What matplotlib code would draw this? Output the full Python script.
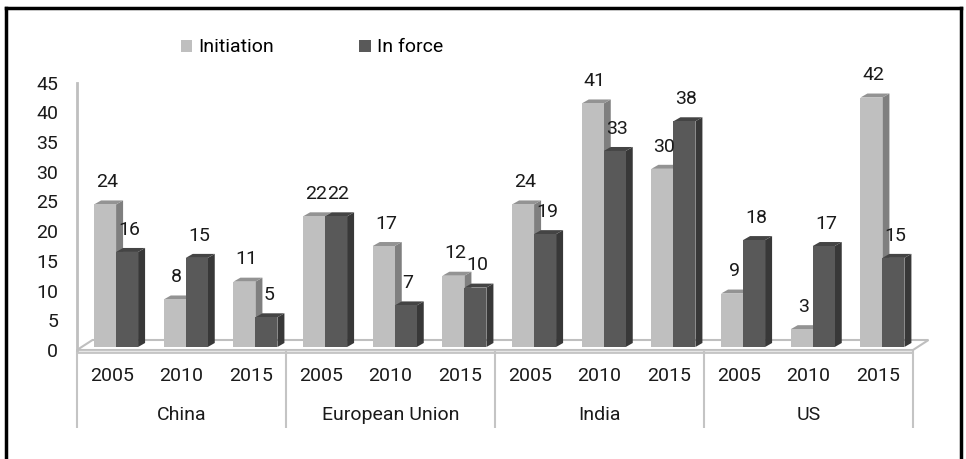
import matplotlib
matplotlib.use("Agg")
import matplotlib.pyplot as plt
from matplotlib.patches import Polygon, Patch
from matplotlib.lines import Line2D

plt.rcParams['font.family'] = ['Roboto', 'DejaVu Sans']

regions = ['China', 'European Union', 'India', 'US']
years = ['2005', '2010', '2015']
initiation = [24, 8, 11, 22, 17, 12, 24, 41, 30, 9, 3, 42]
in_force = [16, 15, 5, 22, 7, 10, 19, 33, 38, 18, 17, 15]

W_PX, H_PX = 966, 459
PX_X = 69.67   # pixels per category
PX_Y = 5.94    # pixels per value unit
FS = 14

# 3d look, in data units
BAR_W = 22 / PX_X
DX = 7 / PX_X
DY = 4 / PX_Y
OFF_X = 4.25 / PX_X
BASE = 3 / PX_Y
FDX = 15.5 / PX_X
FDY = 10 / PX_Y

faces = {
    'light': ('#bfbfbf', '#939393', '#7f7f7f'),
    'dark': ('#595959', '#444444', '#383838'),
}

fig = plt.figure(figsize=(W_PX / 100, H_PX / 100), dpi=100)
ax = fig.add_axes([77 / W_PX, (H_PX - 350) / H_PX, 836 / W_PX, 46 * PX_Y / H_PX])
n = len(initiation)
ax.set_xlim(0, n)
ax.set_ylim(0, 46)

# floor slab
floor = Polygon([(0, 0), (n, 0), (n + FDX, FDY), (FDX, FDY)], closed=True,
                facecolor='white', edgecolor='#bfbfbf', lw=1.5, zorder=1, clip_on=False)
ax.add_patch(floor)
ax.add_patch(Polygon([(0, -0.45), (n, -0.45), (n, 0), (0, 0)], closed=True,
                     facecolor='#e6e6e6', edgecolor='#bfbfbf', lw=1.2, zorder=1, clip_on=False))


def draw_bar(x0, v, kind):
    front, top, side = faces[kind]
    y0 = BASE
    y1 = BASE + v
    ax.add_patch(Polygon([(x0 + BAR_W, y0), (x0 + BAR_W + DX, y0 + DY),
                          (x0 + BAR_W + DX, y1 + DY), (x0 + BAR_W, y1)],
                         closed=True, facecolor=side, edgecolor='none', zorder=3, clip_on=False))
    ax.add_patch(Polygon([(x0, y1), (x0 + BAR_W, y1), (x0 + BAR_W + DX, y1 + DY), (x0 + DX, y1 + DY)],
                         closed=True, facecolor=top, edgecolor='none', zorder=3, clip_on=False))
    ax.bar(x0, v, width=BAR_W, bottom=y0, align='edge', color=front, zorder=3, clip_on=False)
    ax.annotate(str(v), (x0 + BAR_W / 2 + DX * 0.3, y1), xytext=(0, 16),
                textcoords='offset points', ha='center', va='center',
                fontsize=FS, color='#1a1a1a', zorder=5)


for i in range(n):
    c = i + 0.5 + OFF_X
    draw_bar(c - BAR_W, initiation[i], 'light')
    draw_bar(c, in_force[i], 'dark')

# axes styling
for s in ['top', 'right', 'bottom']:
    ax.spines[s].set_visible(False)
ax.spines['left'].set_color('#bfbfbf')
ax.spines['left'].set_linewidth(2)
ax.spines['left'].set_bounds(0, 45)
ax.set_yticks(range(0, 46, 5))
ax.set_xticks([])
ax.tick_params(axis='y', length=0, pad=13.7, labelsize=FS, labelcolor='#1a1a1a')

# multi-level category axis
y_year = -26 / PX_Y
y_region = -65 / PX_Y
for i in range(n):
    ax.text(i + 0.5, y_year, years[i % 3], ha='center', va='center',
            fontsize=FS, color='#1a1a1a', clip_on=False)
for k, r in enumerate(regions):
    ax.text(k * 3 + 1.5, y_region, r, ha='center', va='center',
            fontsize=FS, color='#1a1a1a', clip_on=False)
ax.vlines(range(0, n + 1, 3), -0.2, -78 / PX_Y, colors='#c4c4c4', lw=1.5, clip_on=False)

# legend
handles = [Patch(facecolor=faces['light'][0], label='Initiation'),
           Patch(facecolor=faces['dark'][0], label='In force')]
fig.legend(handles=handles, loc='center left', bbox_to_anchor=(181 / W_PX, 1 - 47.5 / H_PX),
           ncol=2, frameon=False, fontsize=FS, borderpad=0, borderaxespad=0,
           handlelength=0.58, handleheight=0.58, handletextpad=0.3, columnspacing=4.4)

# outer frame (bottom is cut off)
fr = dict(color='black', lw=2.5, transform=fig.transFigure, solid_capstyle='projecting')
fig.add_artist(Line2D([5.5 / W_PX, 5.5 / W_PX], [0, 1 - 7.5 / H_PX], **fr))
fig.add_artist(Line2D([5.5 / W_PX, 961 / W_PX], [1 - 7.5 / H_PX, 1 - 7.5 / H_PX], **fr))
fig.add_artist(Line2D([961 / W_PX, 961 / W_PX], [0, 1 - 7.5 / H_PX], **fr))

fig.savefig('out.png', dpi=100)
